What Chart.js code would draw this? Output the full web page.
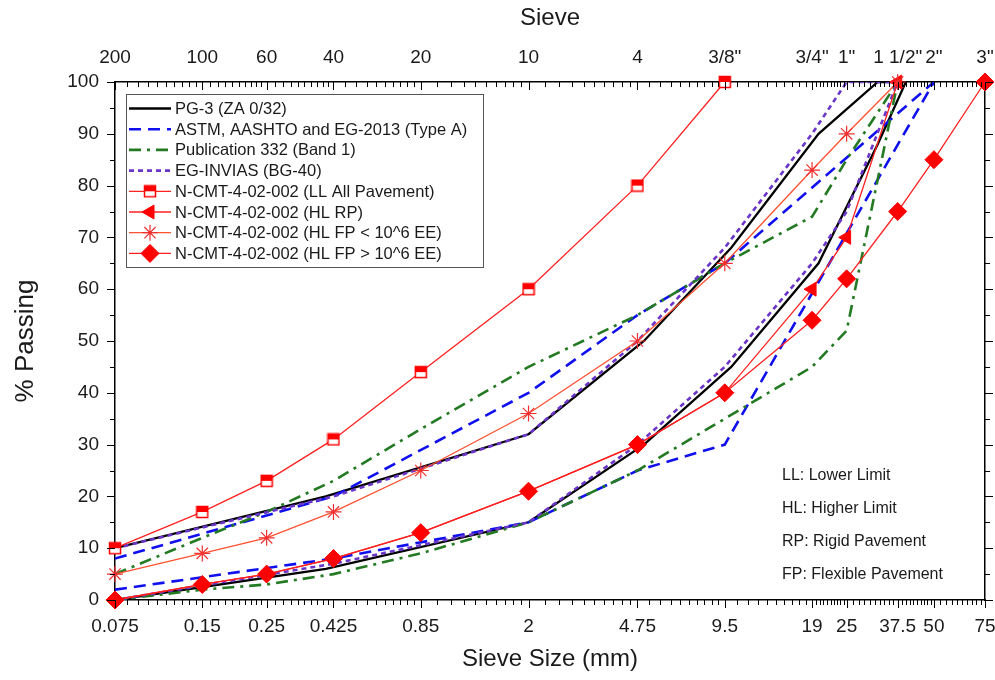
<!DOCTYPE html>
<html>
<head>
<meta charset="utf-8">
<title>Sieve analysis</title>
<script src="https://cdn.jsdelivr.net/npm/chart.js"></script>
<style>
  html, body { margin: 0; padding: 0; background: #fff; }
  canvas { display: block; }
</style>
</head>
<body>
<canvas id="chart" width="995" height="680"></canvas>
<script>
// --- DATA ---
const sieveMm = [0.075, 0.15, 0.25, 0.425, 0.85, 2, 4.75, 9.5, 19, 25, 37.5, 50, 75];
const sieveLabels = ['0.075', '0.15', '0.25', '0.425', '0.85', '2', '4.75', '9.5', '19', '25', '37.5', '50', '75'];
const sieveNames = ['200', '100', '60', '40', '20', '10', '4', '3/8"', '3/4"', '1"', '1 1/2"', '2"', '3"'];
const yTicks = [0, 10, 20, 30, 40, 50, 60, 70, 80, 90, 100];

// PG-3 (ZA 0/32)
const pg3Sizes = [0.075, 0.4, 2, 5, 10, 20, 32, 40];
const pg3Lower = [0, 6, 15, 30, 45, 65, 88, 100];
const pg3Upper = [10, 20, 32, 50, 68, 90, 100, 100];

// ASTM, AASHTO and EG-2013 (Type A)
const astmSizes = [0.075, 0.425, 2, 4.75, 9.5, 50];
const astmLower = [2, 8, 15, 25, 30, 100];
const astmUpper = [8, 20, 40, 55, 65, 100];

// Publication 332 (Band 1)
const pubSizes = [0.075, 0.15, 0.25, 0.425, 0.85, 2, 4.75, 9.5, 19, 25, 37.5];
const pubLower = [0, 2, 3, 5, 9, 15, 25, 35, 45, 52, 100];
const pubUpper = [5, 12, 17, 23, 33, 45, 55, 65, 74, 85, 100];

// EG-INVIAS (BG-40)
const invSizes = [0.075, 0.425, 2, 4.75, 9.5, 19, 25, 37.5];
const invLower = [0, 7, 15, 30, 45, 65, 75, 100];
const invUpper = [10, 20, 32, 50, 68, 90, 100, 100];

// N-CMT-4-02-002
const llAllPavement = [10, 17, 23, 31, 44, 60, 80, 100];
const hlRigid = [0, 3, 5, 8, 13, 21, 30, 40, 60, 70, 100];
const hlFlexLow = [5, 9, 12, 17, 25, 36, 50, 65, 83, 90, 100];
const hlFlexHigh = [0, 3, 5, 8, 13, 21, 30, 40, 54, 62, 75, 85, 100];

const FONT = "'Liberation Sans', Arial, sans-serif";
const TXT = '#1a1a1a';

const toPts = (xs, ys) => ys.map((v, i) => ({ x: xs[i], y: v }));

// half filled square marker
const halfSquare = (() => {
    const c = document.createElement('canvas');
    c.width = 14; c.height = 14;
    const g = c.getContext('2d');
    g.fillStyle = '#fff'; g.fillRect(1, 1, 12, 12);
    g.fillStyle = '#ff0000'; g.fillRect(1, 1, 12, 6);
    g.strokeStyle = '#ff0000'; g.lineWidth = 1.5;
    g.strokeRect(1.5, 1.5, 11, 11);
    return c;
})();

const lineSet = (label, xs, ys, color, dash, width) => ({
    legendText: label,
    data: toPts(xs, ys),
    showLine: true,
    borderColor: color,
    borderWidth: width,
    borderDash: dash,
    pointRadius: 0,
    fill: false,
    tension: 0
});

const markerSet = (label, xs, ys, lineColor, style) => Object.assign({
    legendText: label,
    data: toPts(xs, ys),
    showLine: true,
    borderColor: lineColor,
    borderWidth: 1.3,
    pointBorderColor: '#ff0000',
    pointBackgroundColor: '#ff0000',
    pointBorderWidth: 1,
    fill: false,
    clip: false
}, style);

const datasets = [
    lineSet('PG-3 (ZA 0/32)', pg3Sizes, pg3Lower, '#000000', [], 2.3),
    lineSet(null, pg3Sizes, pg3Upper, '#000000', [], 2.3),
    lineSet('ASTM, AASHTO and EG-2013 (Type A)', astmSizes, astmLower, '#1010ee', [12, 7], 2.6),
    lineSet(null, astmSizes, astmUpper, '#1010ee', [12, 7], 2.6),
    lineSet('Publication 332 (Band 1)', pubSizes, pubLower, '#237a23', [12, 6, 3, 6], 2.6),
    lineSet(null, pubSizes, pubUpper, '#237a23', [12, 6, 3, 6], 2.6),
    lineSet('EG-INVIAS (BG-40)', invSizes, invLower, '#6a35c8', [5, 4], 2.6),
    lineSet(null, invSizes, invUpper, '#6a35c8', [5, 4], 2.6),
    markerSet('N-CMT-4-02-002 (LL All Pavement)', sieveMm, llAllPavement, '#ff2020',
        { pointStyle: halfSquare, pointRadius: 7 }),
    markerSet('N-CMT-4-02-002 (HL RP)', sieveMm, hlRigid, '#ff2020',
        { pointStyle: 'triangle', pointRotation: -90,
          pointRadius: (c) => hlRigid[c.dataIndex] === hlFlexHigh[c.dataIndex] ? 0 : 8 }),
    markerSet('N-CMT-4-02-002 (HL FP < 10^6 EE)', sieveMm, hlFlexLow, '#ff5030',
        { pointStyle: 'star', pointRadius: 8, pointBorderColor: '#f03030', pointBorderWidth: 1.2 }),
    markerSet('N-CMT-4-02-002 (HL FP > 10^6 EE)', sieveMm, hlFlexHigh, '#ff2020',
        { pointStyle: 'rectRot', pointRadius: 9 })
];
// later series are painted on top
datasets.forEach((d, i) => { d.order = datasets.length - i; });

// --- PLUGINS ---
const axisTicks = {
    id: 'axisTicks',
    afterDraw(chart) {
        const { ctx, chartArea: a, scales: { x, y } } = chart;
        ctx.save();
        ctx.strokeStyle = '#000';
        ctx.lineWidth = 1;
        const seg = (x1, y1, x2, y2) => { ctx.beginPath(); ctx.moveTo(x1, y1); ctx.lineTo(x2, y2); ctx.stroke(); };
        sieveMm.forEach((v, i) => {
            const px = Math.round(x.getPixelForValue(v)) + 0.5;
            seg(px, a.bottom, px, a.bottom + 8);
            seg(px, a.top, px, a.top + 8);
            if (i < sieveMm.length - 1) {
                const step = (sieveMm[i + 1] - v) / 10;
                for (let k = 1; k < 10; k++) {
                    const mx = Math.round(x.getPixelForValue(v + k * step)) + 0.5;
                    seg(mx, a.bottom, mx, a.bottom + 5);
                    seg(mx, a.top, mx, a.top + 5);
                }
            }
        });
        for (let v = 0; v <= 100; v += 5) {
            const py = Math.round(y.getPixelForValue(v)) + 0.5;
            const len = v % 10 === 0 ? 8 : 5;
            seg(a.left - len, py, a.left, py);
            seg(a.right, py, a.right + len, py);
        }
        ctx.restore();
    }
};

const insideLegend = {
    id: 'insideLegend',
    afterDatasetsDraw(chart) {
        const { ctx, chartArea: a } = chart;
        const items = chart.data.datasets.filter(d => d.legendText);
        const bx = a.left + 11, by = a.top + 12, bw = 357, bh = 173;
        ctx.save();
        ctx.fillStyle = '#fff';
        ctx.fillRect(bx, by, bw, bh);
        ctx.strokeStyle = '#555';
        ctx.lineWidth = 1;
        ctx.strokeRect(bx + 0.5, by + 0.5, bw, bh);
        items.forEach((d, i) => {
            const ry = by + 14.5 + i * 20.7;
            ctx.save();
            ctx.strokeStyle = d.borderColor;
            ctx.lineWidth = d.borderWidth;
            ctx.setLineDash(d.borderDash || []);
            ctx.beginPath();
            ctx.moveTo(bx + 3, ry);
            ctx.lineTo(bx + 45, ry);
            ctx.stroke();
            ctx.restore();
            if (d.pointStyle && Chart.helpers && Chart.helpers.drawPoint) {
                ctx.save();
                ctx.fillStyle = d.pointBackgroundColor;
                ctx.strokeStyle = d.pointBorderColor;
                ctx.lineWidth = d.pointBorderWidth;
                Chart.helpers.drawPoint(ctx, {
                    pointStyle: d.pointStyle,
                    radius: typeof d.pointRadius === 'number' ? d.pointRadius : 8,
                    rotation: d.pointRotation || 0,
                    borderWidth: d.pointBorderWidth
                }, bx + 24, ry);
                ctx.restore();
            }
            ctx.fillStyle = TXT;
            ctx.font = '16.5px ' + FONT;
            ctx.textBaseline = 'middle';
            ctx.fillText(d.legendText, bx + 49, ry + 1);
        });
        ctx.restore();
    }
};

const notes = ['LL: Lower Limit', 'HL: Higher Limit', 'RP: Rigid Pavement', 'FP: Flexible Pavement'];
const notesBox = {
    id: 'notesBox',
    afterDraw(chart) {
        const { ctx, chartArea: a } = chart;
        ctx.save();
        ctx.fillStyle = TXT;
        ctx.font = '16px ' + FONT;
        ctx.textBaseline = 'middle';
        notes.forEach((t, i) => ctx.fillText(t, a.right - 203, a.top + 394 + i * 32.7));
        ctx.restore();
    }
};

// --- CHART ---
const setTicks = (values) => (s) => { s.ticks = values.map(v => ({ value: v })); };
const fixHeight = (h) => (s) => { s.height = h; s.paddingLeft = 0; s.paddingRight = 0; };

new Chart(document.getElementById('chart'), {
    type: 'scatter',
    data: { datasets },
    options: {
        responsive: false,
        animation: false,
        layout: { padding: 0 },
        plugins: { legend: { display: false }, tooltip: { enabled: false } },
        scales: {
            x: {
                type: 'logarithmic', position: 'bottom', min: 0.075, max: 75,
                afterBuildTicks: setTicks(sieveMm),
                afterFit: fixHeight(80),
                grid: { display: false },
                border: { display: true, color: '#000', width: 1.5 },
                ticks: { autoSkip: false, maxRotation: 0, padding: 7, color: TXT,
                         font: { family: FONT, size: 19 }, callback: (v, i) => sieveLabels[i] },
                title: { display: true, text: 'Sieve Size (mm)', color: TXT,
                         font: { family: FONT, size: 24 }, padding: { top: 0, bottom: 6 } }
            },
            x2: {
                type: 'logarithmic', position: 'top', min: 0.075, max: 75,
                afterBuildTicks: setTicks(sieveMm),
                afterFit: fixHeight(82),
                grid: { display: false },
                border: { display: true, color: '#000', width: 1.5 },
                ticks: { autoSkip: false, maxRotation: 0, padding: 5, color: TXT,
                         font: { family: FONT, size: 19 }, callback: (v, i) => sieveNames[i] },
                title: { display: true, text: 'Sieve', color: TXT,
                         font: { family: FONT, size: 24 }, padding: { top: 4, bottom: 4 } }
            },
            y: {
                type: 'linear', position: 'left', min: 0, max: 100,
                afterBuildTicks: setTicks(yTicks),
                afterFit: (s) => { s.width = 115; },
                grid: { display: false },
                border: { display: true, color: '#000', width: 1.5 },
                ticks: { padding: 8, color: TXT, font: { family: FONT, size: 19 } },
                title: { display: true, text: '% Passing', color: TXT,
                         font: { family: FONT, size: 26 }, padding: { top: 10, bottom: 0 } }
            },
            y2: {
                type: 'linear', position: 'right', min: 0, max: 100,
                afterFit: (s) => { s.width = 10; },
                grid: { display: false },
                border: { display: true, color: '#000', width: 1.5 },
                ticks: { display: false }
            }
        }
    },
    plugins: [axisTicks, insideLegend, notesBox]
});
</script>
</body>
</html>
